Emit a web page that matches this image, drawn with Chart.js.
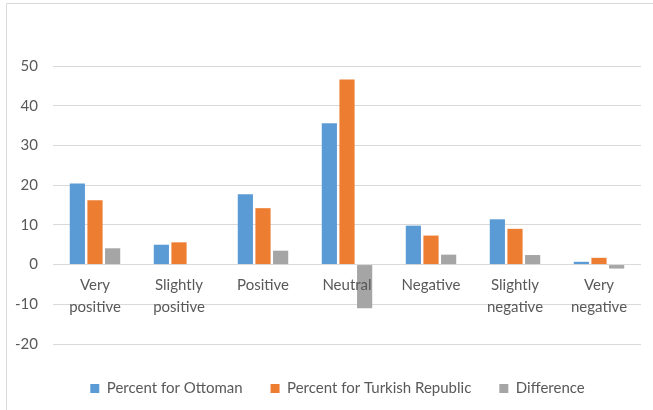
<!DOCTYPE html>
<html><head><meta charset="utf-8">
<script src="https://cdn.jsdelivr.net/npm/chart.js@4/dist/chart.umd.min.js"></script>
<style>html,body{margin:0;padding:0;background:#fff;}#wrap{width:653px;height:410px;position:relative;}</style>
</head><body><div id="wrap"><canvas id="c" width="653" height="410"></canvas></div>
<script>
const categories = [["Very","positive"],["Slightly","positive"],"Positive","Neutral","Negative",["Slightly","negative"],["Very","negative"]];
const ottoman = [20.4, 5.0, 17.7, 35.6, 9.8, 11.4, 0.7];
const turkish = [16.2, 5.6, 14.2, 46.6, 7.3, 9.0, 1.7];
const difference = [4.1, null, 3.5, -11.0, 2.5, 2.4, -1.0];
const seriesNames = ["Percent for Ottoman","Percent for Turkish Republic","Difference"];
const yMin = -20, yMax = 50, yStep = 10;

const FONT = "Lato, 'Open Sans', sans-serif";
const border = {
  id: 'border',
  beforeDraw(chart){
    const ctx = chart.ctx;
    ctx.save();
    ctx.strokeStyle = '#d9d9d9';
    ctx.lineWidth = 1;
    ctx.beginPath();
    ctx.moveTo(6.5, 410); ctx.lineTo(6.5, 3.5); ctx.lineTo(653, 3.5);
    ctx.stroke();
    ctx.restore();
  }
};
const legendShift = {
  id: 'legendShift',
  afterLayout(chart){
    if (chart.legend) { chart.legend.left += 12; chart.legend.right += 12; }
  }
};
new Chart(document.getElementById('c'), {
  type: 'bar',
  data: {
    labels: categories,
    datasets: [
      {label: seriesNames[0], data: ottoman, backgroundColor: '#5B9BD5'},
      {label: seriesNames[1], data: turkish, backgroundColor: '#ED7D31'},
      {label: seriesNames[2], data: difference, backgroundColor: '#A5A5A5'}
    ]
  },
  options: {
    responsive: false,
    animation: false,
    devicePixelRatio: 1,
    datasets: {bar: {categoryPercentage: 0.63, barPercentage: 0.86}},
    layout: {padding: {top: 66, right: 12, left: 10, bottom: 4}},
    plugins: {
      legend: {
        position: 'bottom',
        title: {display: true, text: '', font: {size: 1, lineHeight: 1}, padding: {top: 8, bottom: 0}},
        labels: {boxWidth: 9, boxHeight: 9, color: '#595959', font: {family: FONT, size: 15}, padding: 28}
      },
      tooltip: {enabled: false}
    },
    scales: {
      x: {
        position: {y: 0},
        grid: {display: false},
        border: {display: false},
        ticks: {z: 1, color: '#595959', font: {family: FONT, size: 15, lineHeight: 1.47}, maxRotation: 0, autoSkip: false, padding: 2}
      },
      y: {
        min: yMin, max: yMax,
        ticks: {stepSize: yStep, color: '#595959', font: {family: FONT, size: 15}, padding: 15},
        grid: {color: '#d9d9d9', drawTicks: false},
        border: {display: false},
        afterFit(s){ s.width = 43; }
      }
    }
  },
  plugins: [border, legendShift]
});
</script></body></html>
